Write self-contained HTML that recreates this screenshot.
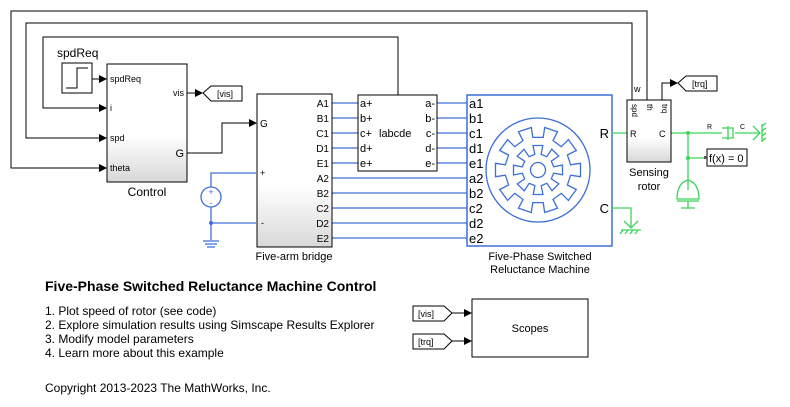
<!DOCTYPE html>
<html><head><meta charset="utf-8"><style>
body{margin:0;background:#fff;width:790px;height:407px;overflow:hidden}
svg{display:block;font-family:"Liberation Sans",sans-serif}
</style></head><body>
<svg width="790" height="407" viewBox="0 0 790 407" xmlns="http://www.w3.org/2000/svg">
<defs>
<linearGradient id="g" x1="0" y1="0" x2="0" y2="1"><stop offset="0.6" stop-color="#fff"/><stop offset="1" stop-color="#d8d8d8"/></linearGradient>
<marker id="ar" markerWidth="8" markerHeight="8" refX="7" refY="4" orient="auto" markerUnits="userSpaceOnUse"><path d="M0,0 L8,4 L0,8z" fill="#000"/></marker>
</defs>
<g fill="none" stroke="#000" stroke-width="1">
<path d="M647,100 V11 H11 V168 H106" marker-end="url(#ar)"/>
<path d="M632,100 V23 H26 V138 H106" marker-end="url(#ar)"/>
<path d="M398,95 V37 H43 V108 H106" marker-end="url(#ar)"/>
<path d="M92,79 H106" marker-end="url(#ar)"/>
<path d="M187,93 H202" marker-end="url(#ar)"/>
<path d="M187,153 H222 V123 H256" marker-end="url(#ar)"/>
<path d="M662,100 V83 H677" marker-end="url(#ar)"/>
<path d="M452,313 H471" marker-end="url(#ar)"/>
<path d="M452,341 H471" marker-end="url(#ar)"/>
</g>
<rect x="62" y="63" width="30" height="30" fill="#fff" stroke="#000"/>
<path d="M66,88 H77 V68 H88" fill="none" stroke="#000"/>
<text x="57" y="57" font-size="12">spdReq</text>
<rect x="107" y="64" width="80" height="118" fill="url(#g)" stroke="#000"/>
<g font-size="9">
<text x="110" y="82">spdReq</text><text x="110" y="111">i</text><text x="110" y="141">spd</text><text x="110" y="171">theta</text>
<text x="184" y="96" text-anchor="end">vis</text><text x="184" y="157" text-anchor="end" font-size="11">G</text>
</g>
<text x="147" y="196" font-size="12" text-anchor="middle">Control</text>
<path d="M203,93 L211,86 H242 V101 H211z" fill="#fff" stroke="#000"/><text x="217" y="97" font-size="9">[vis]</text>
<path d="M678,83 L686,76 H717 V91 H686z" fill="#fff" stroke="#000"/><text x="692" y="87" font-size="9">[trq]</text>
<path d="M413,306 H444 L452,313 L444,321 H413z" fill="#fff" stroke="#000"/><text x="418" y="317" font-size="9">[vis]</text>
<path d="M413,334 H444 L452,341 L444,349 H413z" fill="#fff" stroke="#000"/><text x="418" y="345" font-size="9">[trq]</text>
<rect x="472" y="299" width="116" height="58" fill="#fff" stroke="#000"/><text x="530" y="332" font-size="11" text-anchor="middle">Scopes</text>
<g stroke="#3c6fd8" stroke-width="1.3" fill="none">
<path d="M332,103 H358 M332,118 H358 M332,133 H358 M332,148 H358 M332,163 H358"/>
<path d="M437,103 H467 M437,118 H467 M437,133 H467 M437,148 H467 M437,163 H467"/>
<path d="M332,178 H467 M332,193 H467 M332,208 H467 M332,223 H467 M332,238 H467"/>
<path d="M256,173 H211 V187 M211,207 V240 M211,223 H256"/>
<circle cx="211" cy="197" r="10"/>
<path d="M203,241 H219 M205,244 H217 M207,247 H215"/>
</g>
<circle cx="211" cy="223" r="2" fill="#3c6fd8"/>
<text x="211" y="195" font-size="9" fill="#3c6fd8" text-anchor="middle">+</text>
<text x="211" y="206" font-size="9" fill="#3c6fd8" text-anchor="middle">-</text>
<rect x="257" y="94" width="75" height="153" fill="url(#g)" stroke="#000"/>
<g font-size="10">
<text x="260" y="127">G</text><text x="260" y="176" font-size="9">+</text><text x="261" y="226" font-size="9">-</text>
<g text-anchor="end"><text x="329" y="107">A1</text><text x="329" y="122">B1</text><text x="329" y="137">C1</text><text x="329" y="152">D1</text><text x="329" y="167">E1</text><text x="329" y="182">A2</text><text x="329" y="197">B2</text><text x="329" y="212">C2</text><text x="329" y="227">D2</text><text x="329" y="242">E2</text></g>
</g>
<text x="294" y="260" font-size="11" text-anchor="middle">Five-arm bridge</text>
<rect x="358" y="95" width="79" height="76" fill="#fff" stroke="#000"/>
<g font-size="11"><text x="360" y="107">a+</text><text x="360" y="122">b+</text><text x="360" y="137">c+</text><text x="360" y="152">d+</text><text x="360" y="167">e+</text>
<text x="379" y="137">labcde</text>
<g text-anchor="end"><text x="435" y="107">a-</text><text x="435" y="122">b-</text><text x="435" y="137">c-</text><text x="435" y="152">d-</text><text x="435" y="167">e-</text></g></g>
<rect x="467" y="95" width="145" height="151" fill="#fff" stroke="#3c6fd8" stroke-width="1.5"/>
<g font-size="13"><text x="469" y="108">a1</text><text x="469" y="123">b1</text><text x="469" y="138">c1</text><text x="469" y="153">d1</text><text x="469" y="168">e1</text><text x="469" y="183">a2</text><text x="469" y="198">b2</text><text x="469" y="213">c2</text><text x="469" y="228">d2</text><text x="469" y="243">e2</text>
<text x="609" y="138" text-anchor="end">R</text><text x="609" y="213" text-anchor="end">C</text></g>
<circle cx="538" cy="170" r="52" fill="none" stroke="#3c6fd8" stroke-width="1.3"/>
<path id="stator" fill="none" stroke="#3c6fd8" stroke-width="1.3"/>
<path id="rotor" fill="none" stroke="#3c6fd8" stroke-width="1.3"/>
<circle cx="538" cy="170" r="7.5" fill="none" stroke="#3c6fd8" stroke-width="1.3"/>
<text x="540" y="260" font-size="11" text-anchor="middle">Five-Phase Switched</text>
<text x="540" y="273" font-size="11" text-anchor="middle">Reluctance Machine</text>
<g stroke="#3cd45a" stroke-width="1.3" fill="none">
<path d="M612,133 H627 M671,133 H722 M735,133 H760 M688,133 V190 M688,158 H707"/>
<path d="M612,208 H631 V228 M624,221 L631,228 L638,221 M621,230 H641 M623,230 l-3,4 M628,230 l-3,4 M633,230 l-3,4 M638,230 l-3,4"/>
<path d="M722,128 H733 V138 H722 M728,126 V140"/>
<path d="M753,126 L760,133 L753,140 M762,124 V142 M762,126 l4,-3 M762,131 l4,-3 M762,136 l4,-3 M762,141 l4,-3"/>
<path d="M677,199 Q677,183 688,180 Q699,183 699,199z M677,201 H699 M688,201 V208 M681,208 H695"/>
</g>
<circle cx="688" cy="133" r="2" fill="#3cd45a"/><circle cx="688" cy="158" r="2" fill="#3cd45a"/>
<text x="707" y="129" font-size="7">R</text><text x="740" y="129" font-size="7">C</text>
<rect x="707" y="149" width="40" height="17" fill="#fff" stroke="#000"/><rect x="704" y="156" width="3" height="3" fill="#555"/>
<text x="709" y="162" font-size="11">f(x) = 0</text>
<rect x="627" y="100" width="44" height="62" fill="url(#g)" stroke="#000"/>
<g font-size="8"><text transform="translate(632,104) rotate(90)">spd</text><text transform="translate(647,104) rotate(90)">th</text><text transform="translate(662,104) rotate(90)">trq</text>
<text x="630" y="137" font-size="9">R</text><text x="659" y="137" font-size="9">C</text></g>
<text x="634" y="92" font-size="9">w</text>
<text x="649" y="176" font-size="11" text-anchor="middle">Sensing</text><text x="649" y="190" font-size="11" text-anchor="middle">rotor</text>
<text x="45" y="291" font-size="14" font-weight="bold">Five-Phase Switched Reluctance Machine Control</text>
<g font-size="12"><text x="45" y="315">1. Plot speed of rotor (see code)</text><text x="45" y="329">2. Explore simulation results using Simscape Results Explorer</text><text x="45" y="343">3. Modify model parameters</text><text x="45" y="357">4. Learn more about this example</text>
<text x="45" y="392">Copyright 2013-2023 The MathWorks, Inc.</text></g>
</svg>
<script>
function gear(n,ro,ri,frac,off){var cx=538,cy=170,d="",s=2*Math.PI/n;
for(var i=0;i<n;i++){var a=i*s+off,w=s*frac;
var pts=[[ri,a],[ro,a],[ro,a+w],[ri,a+w]];
pts.forEach(function(p,j){var x=cx+p[0]*Math.cos(p[1]),y=cy+p[0]*Math.sin(p[1]);d+=(i==0&&j==0?"M":"L")+x.toFixed(1)+","+y.toFixed(1)});}
return d+"Z";}
document.getElementById("stator").setAttribute("d",gear(10,33,43,0.5,-Math.PI/2-0.157));
document.getElementById("rotor").setAttribute("d",gear(8,25,16,0.5,-Math.PI/2-0.2));
</script>
</body></html>
